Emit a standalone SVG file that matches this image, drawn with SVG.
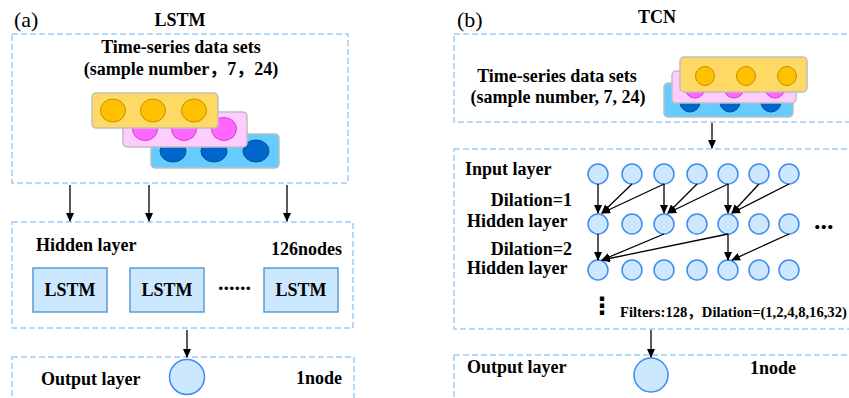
<svg xmlns="http://www.w3.org/2000/svg" width="849" height="398" viewBox="0 0 849 398">
<style>
.t{font-family:"Liberation Serif","Times New Roman","Noto Sans CJK SC",serif;font-weight:bold;font-size:18px;fill:#000}
.lbl{font-family:"Liberation Serif","Times New Roman",serif;font-size:22px;fill:#000}
.box{fill:none;stroke:#9fcbf5;stroke-width:1.5;stroke-dasharray:6 3}
.nd{fill:#cce8ff;stroke:#3d8cf0;stroke-width:1.5}
.lstm{fill:#cce8ff;stroke:#5b9bd5;stroke-width:1.5}
.ry{fill:#ffd966;stroke:#bfbfbf;stroke-width:1.5}
.rp{fill:#ffccff;stroke:#bfbfbf;stroke-width:1.5}
.rb{fill:#66ccff;stroke:#bfbfbf;stroke-width:1.5}
.cy{fill:#ffc000;stroke:#bf9000;stroke-width:1}
.cp{fill:#ff66ff;stroke:#d040d0;stroke-width:1}
.cb{fill:#0066cc;stroke:#0050a0;stroke-width:1}
.ln{stroke:#000;stroke-width:1.3;fill:none;marker-end:url(#ah)}
</style>
<defs>
<marker id="ah" markerWidth="9" markerHeight="8" refX="8" refY="4" orient="auto" markerUnits="userSpaceOnUse">
<path d="M0,0 L9,4 L0,8 Z" fill="#000"/>
</marker>
</defs>

<!-- Panel (a) -->
<g id="a-labels">
<text class="lbl" x="14" y="27">(a)</text>
<text class="t" x="180" y="26" text-anchor="middle">LSTM</text>
</g>
<g id="a-input">
<rect class="box" x="12" y="34" width="336" height="149"/>
<text class="t" x="181" y="53" text-anchor="middle">Time-series data sets</text>
<text class="t" x="181" y="75" text-anchor="middle">(sample number，7，24)</text>
<rect class="rb" x="151" y="134" width="128" height="34" rx="4"/>
<ellipse class="cb" cx="173" cy="151" rx="13" ry="11"/>
<ellipse class="cb" cx="214" cy="151" rx="13" ry="11"/>
<ellipse class="cb" cx="256" cy="151" rx="13" ry="11"/>
<rect class="rp" x="123" y="112" width="124" height="35" rx="4"/>
<ellipse class="cp" cx="145" cy="129" rx="12.5" ry="11.5"/>
<ellipse class="cp" cx="184" cy="129" rx="12.5" ry="11.5"/>
<ellipse class="cp" cx="224" cy="129" rx="12.5" ry="11.5"/>
<rect class="ry" x="92" y="93" width="126" height="35" rx="4"/>
<ellipse class="cy" cx="113" cy="110.5" rx="12.5" ry="11.5"/>
<ellipse class="cy" cx="153" cy="110.5" rx="12.5" ry="11.5"/>
<ellipse class="cy" cx="194" cy="110.5" rx="12.5" ry="11.5"/>
</g>
<g id="a-hidden">
<rect class="box" x="12" y="222" width="341" height="106"/>
<text class="t" x="36" y="251">Hidden layer</text>
<text class="t" x="342" y="255" text-anchor="end">126nodes</text>
<rect class="lstm" x="33" y="268" width="74" height="44"/>
<text class="t" x="70" y="296" text-anchor="middle">LSTM</text>
<rect class="lstm" x="130" y="268" width="74" height="44"/>
<text class="t" x="167" y="296" text-anchor="middle">LSTM</text>
<text class="t" x="218" y="290" style="font-size:22px">......</text>
<rect class="lstm" x="264" y="268" width="74" height="44"/>
<text class="t" x="301" y="296" text-anchor="middle">LSTM</text>
</g>
<g id="a-output">
<rect class="box" x="12" y="357" width="342" height="60"/>
<text class="t" x="41" y="385">Output layer</text>
<circle class="nd" cx="187" cy="377" r="17.5"/>
<text class="t" x="342" y="384" text-anchor="end">1node</text>
</g>

<!-- Panel (b) -->
<g id="b-labels">
<text class="lbl" x="457" y="27">(b)</text>
<text class="t" x="657" y="23" text-anchor="middle">TCN</text>
</g>
<g id="b-input">
<rect class="box" x="454" y="34" width="420" height="88"/>
<text class="t" x="557" y="82" text-anchor="middle">Time-series data sets</text>
<text class="t" x="558" y="103" text-anchor="middle">(sample number, 7, 24)</text>
<rect class="rb" x="664" y="83" width="129" height="34" rx="4"/>
<circle class="cb" cx="690" cy="102" r="10"/>
<circle class="cb" cx="730" cy="102" r="10"/>
<circle class="cb" cx="771" cy="102" r="10"/>
<rect class="rp" x="672" y="71" width="124" height="32" rx="4"/>
<circle class="cp" cx="695" cy="88" r="10"/>
<circle class="cp" cx="734" cy="88" r="10"/>
<circle class="cp" cx="775" cy="88" r="10"/>
<rect class="ry" x="680" y="57" width="127" height="35" rx="4"/>
<circle class="cy" cx="705" cy="76" r="9.5"/>
<circle class="cy" cx="746" cy="76" r="9.5"/>
<circle class="cy" cx="787" cy="76" r="9.5"/>
</g>
<g id="b-tcn">
<rect class="box" x="454" y="149" width="420" height="180"/>
<text class="t" x="465" y="175">Input layer</text>
<text class="t" x="572" y="206" text-anchor="end">Dilation=1</text>
<text class="t" x="467" y="227">Hidden layer</text>
<text class="t" x="572" y="255" text-anchor="end">Dilation=2</text>
<text class="t" x="467" y="274">Hidden layer</text>
<text class="t" x="814" y="229" style="font-size:26px">...</text>
<text x="602" y="314" text-anchor="middle" style="font-family:'DejaVu Sans',sans-serif;font-weight:bold;font-size:24px">⋮</text>
<text class="t" x="620" y="317" style="font-size:14.6px">Filters:128，Dilation=(1,2,4,8,16,32)</text>
</g>
<g id="b-nodes-in">
<circle class="nd" cx="598" cy="174" r="10"/>
<circle class="nd" cx="632" cy="174" r="10"/>
<circle class="nd" cx="664" cy="174" r="10"/>
<circle class="nd" cx="697" cy="174" r="10"/>
<circle class="nd" cx="728" cy="174" r="10"/>
<circle class="nd" cx="759" cy="174" r="10"/>
<circle class="nd" cx="789" cy="174" r="10"/>
</g>
<g id="b-nodes-h1">
<circle class="nd" cx="598" cy="224" r="10"/>
<circle class="nd" cx="632" cy="224" r="10"/>
<circle class="nd" cx="664" cy="224" r="10"/>
<circle class="nd" cx="697" cy="224" r="10"/>
<circle class="nd" cx="728" cy="224" r="10"/>
<circle class="nd" cx="759" cy="224" r="10"/>
<circle class="nd" cx="789" cy="224" r="10"/>
</g>
<g id="b-nodes-h2">
<circle class="nd" cx="598" cy="270" r="10"/>
<circle class="nd" cx="632" cy="270" r="10"/>
<circle class="nd" cx="664" cy="270" r="10"/>
<circle class="nd" cx="697" cy="270" r="10"/>
<circle class="nd" cx="728" cy="270" r="10"/>
<circle class="nd" cx="759" cy="270" r="10"/>
<circle class="nd" cx="789" cy="270" r="10"/>
</g>
<g id="b-output">
<rect class="box" x="454" y="355" width="420" height="60"/>
<text class="t" x="467" y="373">Output layer</text>
<circle class="nd" cx="651" cy="375" r="17"/>
<text class="t" x="750" y="374">1node</text>
</g>

<g id="connectors">
<line class="ln" x1="70" y1="185" x2="70" y2="221"/>
<line class="ln" x1="149" y1="185" x2="149" y2="221"/>
<line class="ln" x1="287" y1="185" x2="287" y2="221"/>
<line class="ln" x1="187" y1="330" x2="187" y2="357"/>
<line class="ln" x1="712" y1="123" x2="712" y2="148"/>
<line class="ln" x1="598" y1="184" x2="598" y2="213"/>
<line class="ln" x1="632" y1="184" x2="602" y2="213"/>
<line class="ln" x1="664" y1="184" x2="602" y2="213"/>
<line class="ln" x1="664" y1="184" x2="664" y2="213"/>
<line class="ln" x1="697" y1="184" x2="668" y2="213"/>
<line class="ln" x1="728" y1="184" x2="668" y2="213"/>
<line class="ln" x1="728" y1="184" x2="728" y2="213"/>
<line class="ln" x1="759" y1="184" x2="732" y2="213"/>
<line class="ln" x1="789" y1="184" x2="732" y2="213"/>
<line class="ln" x1="598" y1="234" x2="598" y2="260"/>
<line class="ln" x1="664" y1="234" x2="602" y2="260"/>
<line class="ln" x1="728" y1="234" x2="602" y2="260"/>
<line class="ln" x1="728" y1="234" x2="728" y2="260"/>
<line class="ln" x1="789" y1="234" x2="732" y2="260"/>
<line class="ln" x1="651" y1="330" x2="651" y2="357"/>
</g>
</svg>
